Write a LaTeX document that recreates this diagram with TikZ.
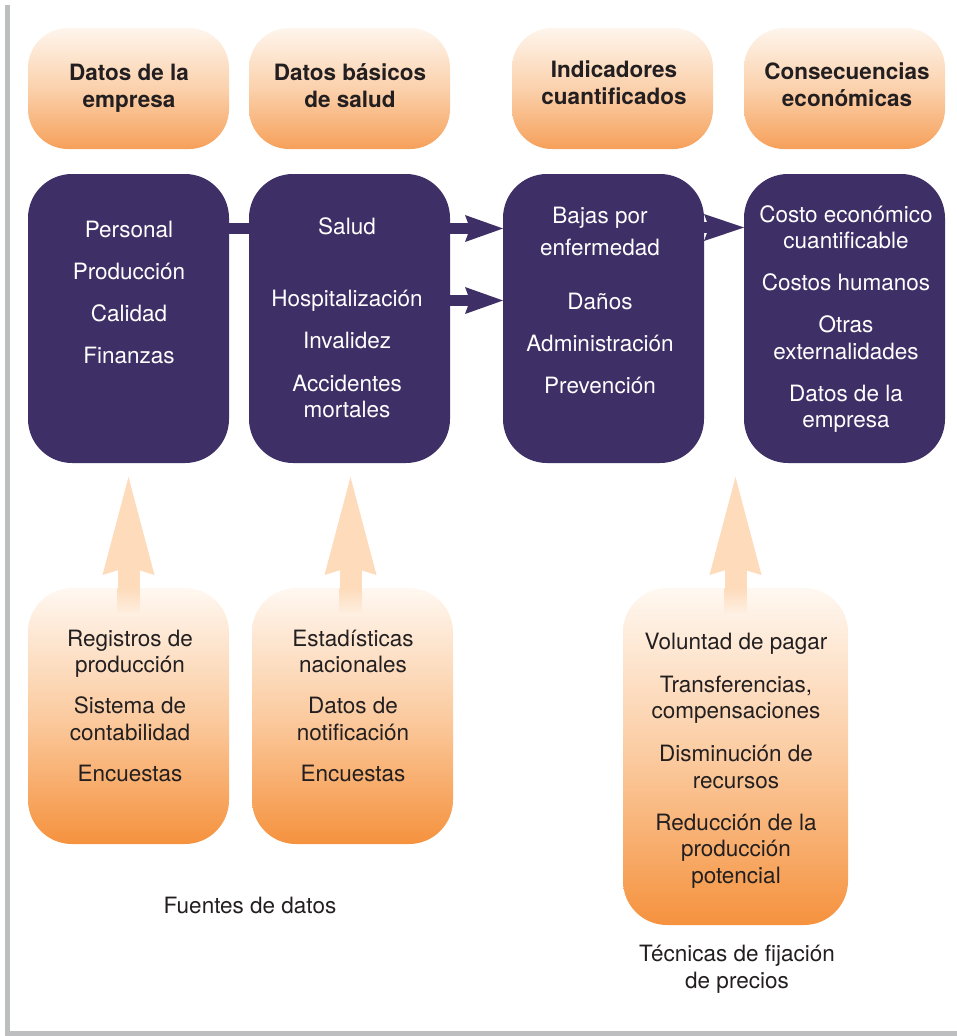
\documentclass[tikz,border=0pt]{standalone}
\usepackage{fontspec}
\setmainfont{TeX Gyre Heros}
\usetikzlibrary{arrows.meta}
\definecolor{purp}{HTML}{3E2F66}
\definecolor{peach}{HTML}{FDDBBB}
\definecolor{ortop}{HTML}{FFF8F1}
\definecolor{ormid}{HTML}{FBCBA0}
\definecolor{orbot}{HTML}{F5923E}
\definecolor{hdtop}{HTML}{FEF5EC}
\definecolor{hdmid}{HTML}{FBD1AC}
\definecolor{hdbot}{HTML}{F6A05A}
\definecolor{framegray}{HTML}{BDBEC0}
\definecolor{ink}{HTML}{231F20}
\begin{document}
\begin{tikzpicture}[x=1pt,y=-1pt,
  every node/.style={font=\fontsize{22.5}{26.5}\selectfont, inner sep=0pt, outer sep=0pt},
  hdbox/.style={rounded corners=40pt, top color=hdtop, bottom color=hdbot, middle color=hdmid,
    minimum width=201pt, minimum height=121pt, anchor=north west},
  pbox/.style={rounded corners=44pt, fill=purp, minimum width=201pt, minimum height=289pt, anchor=north west},
  obox/.style={rounded corners=44pt, top color=ortop, bottom color=orbot, middle color=ormid, anchor=north west},
  wtxt/.style={text=white, align=center, anchor=base},
  dtxt/.style={text=ink, align=center, anchor=base},
  htxt/.style={text=ink, align=center, anchor=base, font=\bfseries\fontsize{22.5}{27}\selectfont},
  purpbar/.style={draw=purp, line width=11.5pt},
  purparrow/.style={draw=purp, line width=11.5pt, -{Stealth[length=38pt,width=27pt,inset=5pt,line width=0pt]}},
  purphead/.style={draw=purp, line width=11.5pt, -{Stealth[length=40pt,width=27pt,inset=5pt,line width=0pt]}},
  peacharrow/.style={draw=peach, line width=22pt, -{Stealth[length=98pt,width=52pt,inset=8pt,line width=0pt]}}
]
\useasboundingbox (0,0) rectangle (957,1036);
% frame
\fill[framegray] (5,5) rectangle (10,1036);
\fill[framegray] (5,1031) rectangle (957,1036);

% header boxes
\node[hdbox] (h1) at (28,28) {};
\node[hdbox] (h2) at (249,28) {};
\node[hdbox] (h3) at (512,28) {};
\node[hdbox] (h4) at (744,28) {};
% anchor=base is the baseline of the last line
\node[htxt] (h1t) at (129,107) {Datos de la\\empresa};
\node[htxt] (h2t) at (350,107) {Datos básicos\\de salud};
\node[htxt] (h3t) at (614,104) {Indicadores\\cuantificados};
\node[htxt] (h4t) at (847,106) {Consecuencias\\económicas};

% purple boxes
\node[pbox] (p1) at (28,174) {};
\node[pbox] (p2) at (249,174) {};
\node[pbox] (p3) at (503,174) {};
\node[pbox] (p4) at (744,174) {};

% connectors between purple boxes
\coordinate (yA) at (0,228.5);
\coordinate (yB) at (0,300.5);
\coordinate (yC) at (0,227.5);
\draw[purpbar] (p1.east |- yA) -- (p2.west |- yA);
\draw[purparrow] (p2.east |- yA) -- (p3.west |- yA);
\draw[purparrow] (p2.east |- yB) -- (p3.west |- yB);
\draw[purphead] (p3.east |- yC) -- (p4.west |- yC);

\node[wtxt] (p1t) at (129,363) {Personal\\[15.5pt]Producción\\[15.5pt]Calidad\\[15.5pt]Finanzas};
\node[wtxt] (p2t) at (347,417.5) {Salud\\[45.5pt]Hospitalización\\[15.5pt]Invalidez\\[16.5pt]Accidentes\\mortales};
\node[wtxt] (p3t) at (600,393) {Bajas por\\[5.5pt]enfermedad\\[27.5pt]Daños\\[15.5pt]Administración\\[15.5pt]Prevención};
\node[wtxt] (p4t) at (846,427.5) {Costo económico\\cuantificable\\[15.5pt]Costos humanos\\[15.5pt]Otras\\externalidades\\[15.5pt]Datos de la\\empresa};

% bottom boxes
\node[obox, minimum width=201pt, minimum height=256pt] (b1) at (28,588) {};
\node[obox, minimum width=201pt, minimum height=256pt] (b2) at (252,588) {};
\node[obox, minimum width=225pt, minimum height=337pt] (b3) at (623,588) {};

% upward arrows
\coordinate (yU) at (0,477);
\draw[peacharrow] (b1.north) -- (b1.north |- yU);
\draw[peacharrow] ([xshift=-2pt]b2.north) -- ([xshift=-2pt]b2.north |- yU);
\draw[peacharrow] (b3.north) -- (b3.north |- yU);
\shade[top color=peach, bottom color=ormid!18!ortop] (b1.north) ++(-11,0) rectangle ++(22,27);
\shade[top color=peach, bottom color=ormid!18!ortop] ([xshift=-2pt]b2.north) ++(-11,0) rectangle ++(22,27);
\shade[top color=peach, bottom color=ormid!15!ortop] (b3.north) ++(-11,0) rectangle ++(22,27);

\node[dtxt] (b1t) at (130,781) {Registros de\\producción\\[14.5pt]Sistema de\\contabilidad\\[14.5pt]Encuestas};
\node[dtxt] (b2t) at (353,781) {Estadísticas\\nacionales\\[14.5pt]Datos de\\notificación\\[14.5pt]Encuestas};
\node[dtxt] (b3t) at (736,883) {Voluntad de pagar\\[16.5pt]Transferencias,\\compensaciones\\[16.5pt]Disminución de\\recursos\\[15.5pt]Reducción de la\\producción\\potencial};

% captions
\node[dtxt] (cap1) at (250,913) {Fuentes de datos};
\node[dtxt] (cap2) at (737,988) {Técnicas de fijación\\de precios};
\end{tikzpicture}
\end{document}
